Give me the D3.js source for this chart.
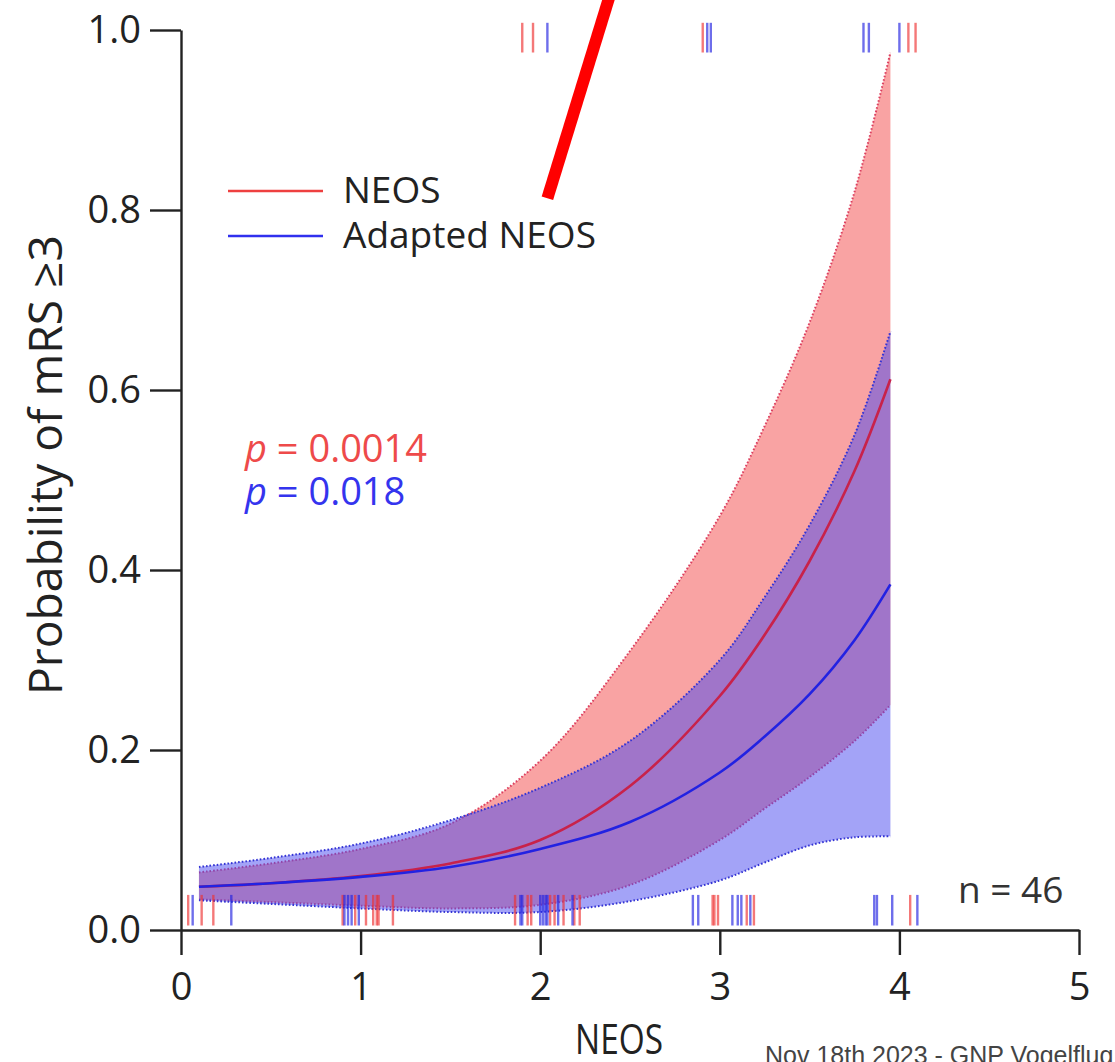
<!DOCTYPE html>
<html>
<head>
<meta charset="utf-8">
<script src="https://cdn.jsdelivr.net/npm/d3@7"></script>
<style>
  body { margin: 0; background: #fff; }
  svg { display: block; font-family: "Open Sans", sans-serif; }
</style>
</head>
<body>
<script>
var neosGrid     = [0.1, 0.5, 1.0, 1.5, 2.0, 2.5, 3.0, 3.25, 3.5, 3.75, 3.95];
var neosFit      = [0.048, 0.052, 0.060, 0.074, 0.100, 0.160, 0.260, 0.328, 0.410, 0.510, 0.612];
var neosLower    = [0.034, 0.031, 0.027, 0.024, 0.028, 0.050, 0.100, 0.135, 0.170, 0.210, 0.250];
var neosUpper    = [0.064, 0.074, 0.090, 0.118, 0.188, 0.310, 0.460, 0.560, 0.675, 0.820, 0.975];
var adaptedFit   = [0.048, 0.052, 0.059, 0.070, 0.090, 0.120, 0.175, 0.215, 0.262, 0.322, 0.384];
var adaptedLower = [0.033, 0.029, 0.024, 0.020, 0.020, 0.032, 0.055, 0.075, 0.094, 0.103, 0.104];
var adaptedUpper = [0.070, 0.080, 0.096, 0.122, 0.158, 0.210, 0.300, 0.370, 0.450, 0.550, 0.665];

// rug marks: patients with outcome 0 (bottom) and 1 (top)
var neosBottom    = [0.04, 0.115, 0.18, 0.90, 0.97, 1.03, 1.07, 1.09, 1.10, 1.18, 1.86, 1.93, 1.95, 2.055, 2.08, 2.13, 2.19, 2.22, 2.96, 2.97, 2.99, 3.15, 3.19, 4.06];
var adaptedBottom = [0.065, 0.28, 0.91, 0.93, 0.95, 0.99, 1.89, 1.90, 2.0, 2.015, 2.03, 2.04, 2.10, 2.18, 2.85, 2.88, 3.07, 3.10, 3.12, 3.17, 3.86, 3.875, 3.96, 4.10];
var neosTop       = [1.90, 1.96, 2.905, 4.05, 4.09];
var adaptedTop    = [2.04, 2.93, 2.95, 3.80, 3.83, 4.00];

var xTicks = [0, 1, 2, 3, 4, 5];
var yTicks = [0, 0.2, 0.4, 0.6, 0.8, 1.0];

var width = 1115, height = 1062;

var svg = d3.select("body").append("svg")
  .attr("width", width)
  .attr("height", height);

var x = d3.scaleLinear().domain([0, 5]).range([181, 1079]);
var y = d3.scaleLinear().domain([0, 1]).range([930, 30]);

var smooth = d3.curveCatmullRom.alpha(0.5);

function rows(lo, hi) {
  return neosGrid.map(function(v, i) { return { x: v, lo: lo[i], hi: hi[i] }; });
}
function pts(vals) {
  return neosGrid.map(function(v, i) { return { x: v, y: vals[i] }; });
}

var area = d3.area()
  .x(function(d) { return x(d.x); })
  .y0(function(d) { return y(d.lo); })
  .y1(function(d) { return y(d.hi); })
  .curve(smooth);

var line = d3.line()
  .x(function(d) { return x(d.x); })
  .y(function(d) { return y(d.y); })
  .curve(smooth);

function band(lo, hi, fill, edge) {
  svg.append("path")
    .attr("d", area(rows(lo, hi)))
    .attr("fill", fill)
    .attr("fill-opacity", 0.5);
  [lo, hi].forEach(function(vals) {
    svg.append("path")
      .attr("d", line(pts(vals)))
      .attr("fill", "none")
      .attr("stroke", edge)
      .attr("stroke-width", 2)
      .attr("stroke-dasharray", "1.6,2");
  });
}

function fitLine(vals, colour) {
  svg.append("path")
    .attr("d", line(pts(vals)))
    .attr("fill", "none")
    .attr("stroke", colour)
    .attr("stroke-width", 2.6);
}

band(neosLower, neosUpper, "rgb(244,72,72)", "#dc4060");
band(adaptedLower, adaptedUpper, "rgb(72,72,240)", "#3434d4");
fitLine(neosFit, "#c8224a");
fitLine(adaptedFit, "#2222e2");

// rugs
function rug(vals, colour, y0, y1) {
  svg.append("g").selectAll("line")
    .data(vals)
    .enter()
    .append("line")
    .attr("x1", function(d) { return x(d); })
    .attr("x2", function(d) { return x(d); })
    .attr("y1", y0)
    .attr("y2", y1)
    .attr("stroke", colour)
    .attr("stroke-width", 2.4)
    .attr("stroke-opacity", 0.65);
}
rug(neosBottom, "#ee3030", y(0.039), y(0.005));
rug(adaptedBottom, "#2020e0", y(0.039), y(0.005));
rug(neosTop, "#ee3030", y(1.008), y(0.975));
rug(adaptedTop, "#2020e0", y(1.008), y(0.975));

// axes
var yAxis = svg.append("g")
  .attr("transform", "translate(" + x(0) + ",0)")
  .call(d3.axisLeft(y).tickValues(yTicks).tickFormat(d3.format(".1f"))
    .tickSize(31).tickSizeOuter(0).tickPadding(9));

var xAxis = svg.append("g")
  .attr("transform", "translate(0," + y(0) + ")")
  .call(d3.axisBottom(x).tickValues(xTicks).tickFormat(d3.format("d"))
    .tickSize(25).tickSizeOuter(0).tickPadding(18));

[xAxis, yAxis].forEach(function(g) {
  g.select(".domain").attr("stroke", "#222").attr("stroke-width", 2.4);
  g.selectAll(".tick line").attr("stroke", "#222").attr("stroke-width", 2.4);
  g.selectAll(".tick text")
    .attr("font-family", "Open Sans")
    .attr("font-size", 38)
    .attr("fill", "#222");
});

// axis titles
svg.append("text")
  .attr("transform", "translate(62,465) rotate(-90)")
  .attr("text-anchor", "middle")
  .attr("font-size", 45)
  .attr("textLength", 460)
  .attr("lengthAdjust", "spacingAndGlyphs")
  .attr("fill", "#222")
  .text("Probability of mRS \u22653");

svg.append("text")
  .attr("x", 619)
  .attr("y", 1054)
  .attr("text-anchor", "middle")
  .attr("font-size", 42)
  .attr("textLength", 88)
  .attr("lengthAdjust", "spacingAndGlyphs")
  .attr("fill", "#222")
  .text("NEOS");

// legend
var legend = [
  { name: "NEOS", colour: "#ee4040", y: 191 },
  { name: "Adapted NEOS", colour: "#3030ee", y: 236 }
];
legend.forEach(function(l) {
  svg.append("line")
    .attr("x1", 228).attr("x2", 323)
    .attr("y1", l.y).attr("y2", l.y)
    .attr("stroke", l.colour)
    .attr("stroke-width", 2.4);
  svg.append("text")
    .attr("x", 343)
    .attr("y", l.y + 12)
    .attr("font-size", 37)
    .attr("fill", "#222")
    .text(l.name);
});

// p values
var pvals = [
  { v: "0.0014", colour: "#ee4a4a", y: 462 },
  { v: "0.018", colour: "#3434ee", y: 505 }
];
pvals.forEach(function(p) {
  svg.append("text")
    .attr("x", 245)
    .attr("y", p.y)
    .attr("font-size", 38)
    .attr("fill", p.colour)
    .html("<tspan font-style='italic'>p</tspan> = " + p.v);
});

svg.append("text")
  .attr("x", 958)
  .attr("y", 903)
  .attr("font-size", 37)
  .attr("fill", "#333")
  .text("n = 46");

// red annotation slash
svg.append("line")
  .attr("x1", x(2.04)).attr("y1", y(0.813))
  .attr("x2", x(2.39)).attr("y2", y(1.04))
  .attr("stroke", "#ff0000")
  .attr("stroke-width", 12);

// footer
svg.append("text")
  .attr("x", 765)
  .attr("y", 1064)
  .attr("font-family", "Liberation Sans, Arial, sans-serif")
  .attr("font-size", 25)
  .attr("fill", "#444")
  .text("Nov 18th 2023 - GNP Vogelflug");
</script>
</body>
</html>
